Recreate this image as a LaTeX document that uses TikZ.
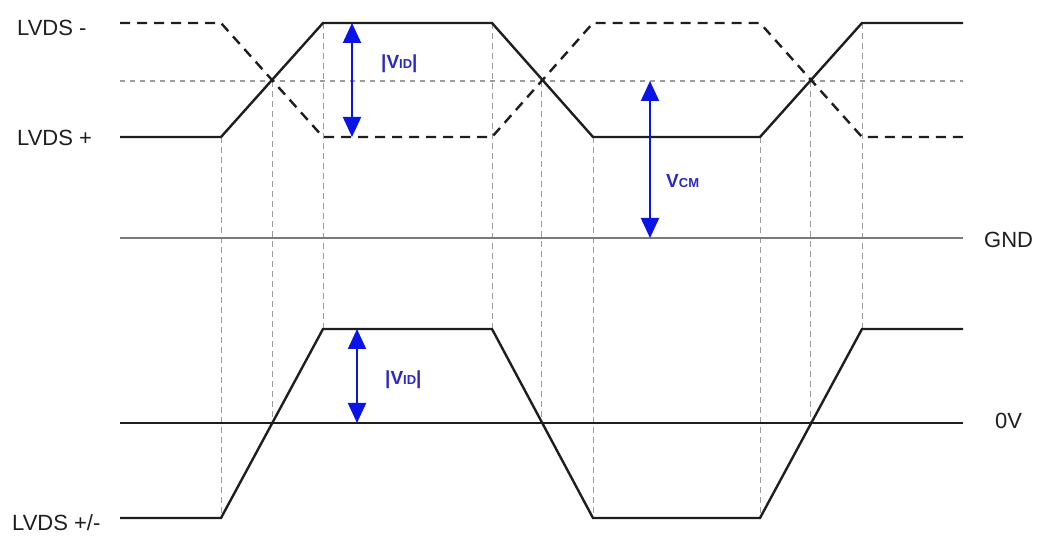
\documentclass[tikz,border=0pt]{standalone}
\usepackage{fontspec}
\setmainfont{Liberation Sans}
\usetikzlibrary{arrows.meta}
\definecolor{sig}{HTML}{1E1E1E}
\definecolor{gridc}{HTML}{9C9C9C}
\definecolor{gndc}{HTML}{7A7A7A}
\definecolor{arr}{HTML}{0A14E6}
\definecolor{lab}{HTML}{2A2AC0}
\tikzset{
  solidsig/.style={draw=sig, line width=2.4pt, line join=miter},
  dashsig/.style={draw=sig, line width=2.4pt, dash pattern=on 10pt off 7pt},
  vguide/.style={draw=gridc, line width=1pt, dash pattern=on 6pt off 4pt},
  hguide/.style={draw=gridc, line width=1.6pt, dash pattern=on 5pt off 5pt},
  refline/.style={line width=2pt},
  txt/.style={font=\fontsize{22}{24}\selectfont, inner sep=0pt, text=sig},
  blab/.style={font=\bfseries\fontsize{19}{21}\selectfont, inner sep=0pt, text=lab},
  varrow/.style={draw=arr, line width=2pt, {Triangle[width=18pt,length=20pt]}-{Triangle[width=18pt,length=20pt]}},
}
\newcommand{\subsm}[1]{{\fontsize{13}{14}\selectfont #1}}
\begin{document}
\begin{tikzpicture}[x=1pt,y=-1pt]
\useasboundingbox (0,0) rectangle (1037,537);
% vertical guides
\foreach \xa/\ya/\yb in {221/137/518, 272/81/423, 323/23/329, 492/23/329, 541/81/423, 593/137/518, 760/137/518, 810/81/423, 862/23/329}
  \draw[vguide] (\xa,\ya) -- (\xa,\yb);
% mid-level guide
\draw[hguide] (120,81) -- (963,81);
% reference lines
\draw[refline, draw=gndc] (120,238) -- (963,238);
\draw[refline, draw=sig] (120,423) -- (963,423);
% signals
\draw[dashsig] (120,23) -- (221,23) -- (323,137) -- (492,137) -- (593,23) -- (760,23) -- (862,137) -- (963,137);
\draw[solidsig] (120,137) -- (221,137) -- (323,23) -- (492,23) -- (593,137) -- (760,137) -- (862,23) -- (963,23);
\draw[solidsig] (120,518) -- (221,518) -- (323,329) -- (492,329) -- (593,518) -- (760,518) -- (862,329) -- (963,329);
% arrow end points
\coordinate (a1t) at (352,23); \coordinate (a1b) at (352,137);
\coordinate (a2t) at (650,81); \coordinate (a2b) at (650,238);
\coordinate (a3t) at (357,329); \coordinate (a3b) at (357,423);
\draw[varrow] (a1t) -- (a1b);
\draw[varrow] (a2t) -- (a2b);
\draw[varrow] (a3t) -- (a3b);
% labels
\node[txt, anchor=west] (lm) at (17,28) {LVDS -};
\node[txt, anchor=west] (lp) at (17,138) {LVDS +};
\node[txt, anchor=west] (lpm) at (12,523) {LVDS +/-};
\node[txt, anchor=west] (gnd) at (984,240) {GND};
\node[txt, anchor=west] (zv) at (995,421) {0V};
\node[blab, anchor=west] (vid1) at (381,64) {|V\subsm{ID}|};
\node[blab, anchor=west] (vcm) at (666,181) {V\subsm{CM}};
\node[blab, anchor=west] (vid2) at (385,380) {|V\subsm{ID}|};
\end{tikzpicture}
\end{document}
